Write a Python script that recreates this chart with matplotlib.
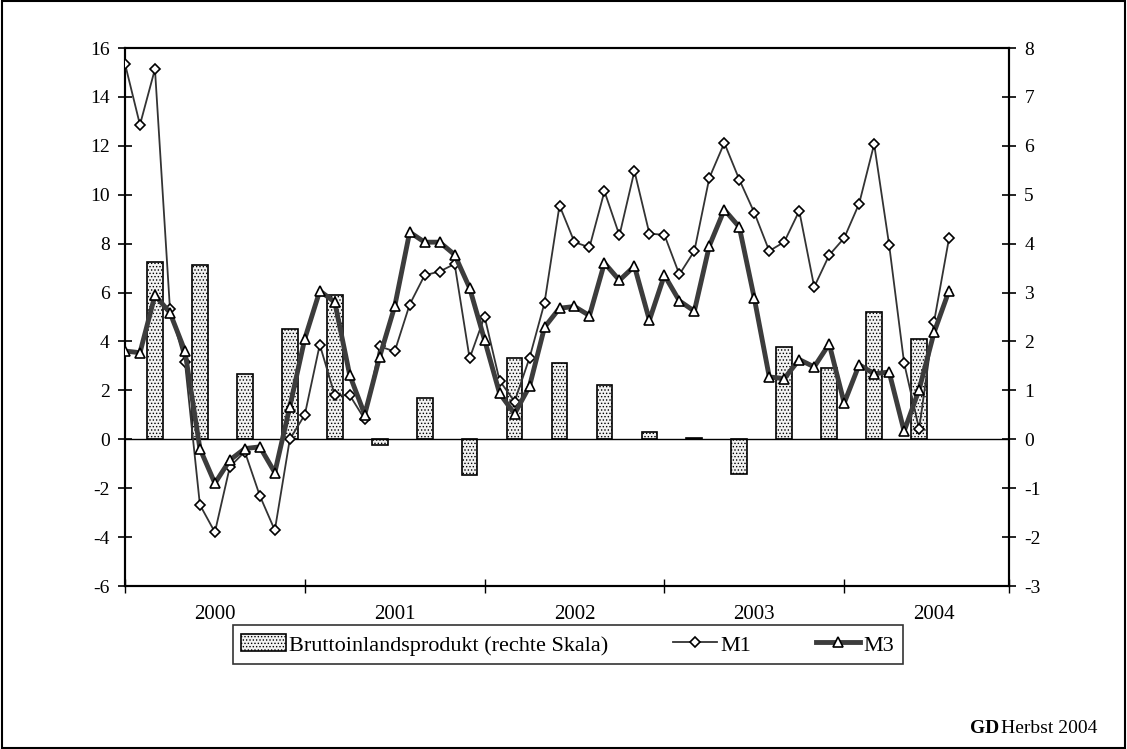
import numpy as np
import matplotlib
matplotlib.use("Agg")
import matplotlib.pyplot as plt
from matplotlib.patches import Rectangle, Patch
from matplotlib.lines import Line2D

plt.rcParams['font.family'] = ['Liberation Serif', 'DejaVu Serif']
plt.rcParams['hatch.linewidth'] = 0.6
plt.rcParams['axes.unicode_minus'] = False

# Monatswerte ab Januar 2000 (linke Skala)
m1 = [15.36, 12.86, 15.14, 5.34, 3.16, -2.68, -3.80, -1.12, -0.51, -2.31, -3.72, 0.00,
      1.00, 3.87, 1.80, 1.80, 0.82, 3.80, 3.59, 5.51, 6.71, 6.86, 7.17, 3.31,
      5.02, 2.40, 1.54, 3.33, 5.58, 9.56, 8.06, 7.85, 10.14, 8.34, 10.97, 8.41,
      8.36, 6.74, 7.70, 10.69, 12.12, 10.62, 9.27, 7.70, 8.07, 9.34, 6.23, 7.53,
      8.23, 9.64, 12.07, 7.95, 3.12, 0.42, 4.81, 8.23]
m3 = [3.61, 3.54, 5.89, 5.18, 3.61, -0.38, -1.80, -0.85, -0.38, -0.31, -1.36, 1.33,
      4.11, 6.07, 5.61, 2.62, 1.01, 3.38, 5.43, 8.47, 8.06, 8.06, 7.55, 6.19,
      4.06, 1.88, 1.04, 2.17, 4.58, 5.36, 5.43, 5.06, 7.21, 6.50, 7.08, 4.87,
      6.71, 5.66, 5.24, 7.91, 9.39, 8.68, 5.77, 2.55, 2.48, 3.26, 2.96, 3.90,
      1.48, 3.05, 2.68, 2.75, 0.33, 2.03, 4.37, 6.08]
# Quartalswerte BIP (rechte Skala), jeweils im letzten Quartalsmonat
bip = [3.63, 3.57, 1.34, 2.25, 2.96, -0.12, 0.85, -0.72, 1.66, 1.55, 1.10, 0.15,
       0.03, -0.70, 1.88, 1.46, 2.60, 2.06]
years = ['2000', '2001', '2002', '2003', '2004']

months = np.arange(len(m1))
quarters = np.arange(len(bip)) * 3 + 2

fig = plt.figure(figsize=(11.27, 7.49), dpi=100)
ax = fig.add_axes([0.1109, 0.2176, 0.7844, 0.7183])
ax2 = ax.twinx()

# Balken hinter die Linien legen
ax.set_zorder(2)
ax2.set_zorder(1)
ax.patch.set_visible(False)

ax2.bar(quarters, bip, width=1.05, facecolor='#f2f2f2', edgecolor='black',
        linewidth=1.2, hatch='.....')

ax.axhline(0, color='black', lw=1.0, zorder=1)
ax.plot(months, m1, color='#333333', lw=1.3, marker='D', ms=5,
        mfc='white', mec='black', mew=1.2, zorder=3)
ax.plot(months, m3, color='#3c3c3c', lw=3.5, marker='^', ms=7,
        mfc='white', mec='black', mew=1.2, zorder=4)

ax.set_xlim(0, 59)
ax.set_ylim(-6, 16)
ax2.set_ylim(-3, 8)
ax.set_yticks(np.arange(-6, 17, 2))
ax2.set_yticks(np.arange(-3, 9, 1))

ax.set_xticks([0, 12, 24, 36, 48, 59])
ax.set_xticklabels([])
ax.set_xticks(np.arange(len(years)) * 12 + 6, labels=years, minor=True)
ax.tick_params(axis='x', which='major', direction='inout', length=10, width=1)
ax.tick_params(axis='x', which='minor', length=0, pad=14, labelsize=15)
ax.tick_params(axis='y', direction='inout', length=10, width=1.2, labelsize=14, pad=6)
ax2.tick_params(axis='y', direction='inout', length=10, width=1.2, labelsize=14, pad=6)

for a in (ax, ax2):
    for s in a.spines.values():
        s.set_linewidth(1.5)

handles = [
    Patch(facecolor='#f2f2f2', edgecolor='black', hatch='.....', linewidth=1.2),
    Line2D([], [], color='#333333', lw=1.3, marker='D', ms=5, mfc='white', mec='black', mew=1.2),
    Line2D([], [], color='#3c3c3c', lw=3.5, marker='^', ms=7, mfc='white', mec='black', mew=1.2),
]
labels = ['Bruttoinlandsprodukt (rechte Skala)', 'M1', 'M3']
leg = fig.legend(handles, labels, loc='center', bbox_to_anchor=(0.504, 0.139), ncol=3,
                 fontsize=16, frameon=True, fancybox=False, edgecolor='black',
                 handlelength=2.0, handleheight=0.8, handletextpad=0.15,
                 columnspacing=2.9, borderpad=0.4)
leg.get_frame().set_linewidth(1.2)

fig.text(0.8864, 0.022, 'GD', fontsize=14, fontweight='bold', ha='right', va='baseline')
fig.text(0.9734, 0.022, 'Herbst 2004', fontsize=14, ha='right', va='baseline')

fig.patches.append(Rectangle((0.002, 0.002), 0.996, 0.996, transform=fig.transFigure,
                             fill=False, edgecolor='black', lw=1.5))

fig.savefig('out.png', dpi=100)
